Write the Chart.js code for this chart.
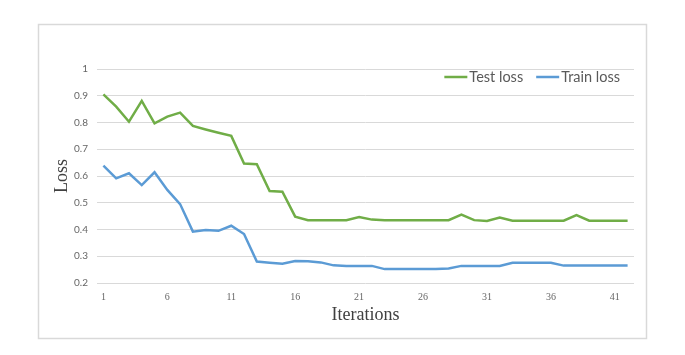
<!DOCTYPE html>
<html>
<head>
<meta charset="utf-8">
<script src="https://cdn.jsdelivr.net/npm/chart.js@4/dist/chart.umd.min.js"></script>
<style>
    html, body { margin: 0; padding: 0; background: #fff; }
    #wrap { width: 685px; height: 355px; }
</style>
</head>
<body>
<div id="wrap"><canvas id="lossChart" width="685" height="355"></canvas></div>
<script>
// --- DONNEES ---
const iterations = Array.from({ length: 42 }, (_, i) => String(i + 1));

const testLoss = [
    0.905, 0.859, 0.803, 0.881, 0.797, 0.822, 0.837, 0.787, 0.774, 0.762,
    0.750, 0.647, 0.644, 0.544, 0.541, 0.448, 0.435, 0.435, 0.435, 0.435,
    0.447, 0.437, 0.435, 0.435, 0.435, 0.435, 0.435, 0.435, 0.456, 0.435,
    0.432, 0.445, 0.433, 0.433, 0.433, 0.433, 0.433, 0.454, 0.433, 0.433,
    0.433, 0.433
];

const trainLoss = [
    0.639, 0.591, 0.610, 0.566, 0.614, 0.548, 0.495, 0.392, 0.398, 0.395,
    0.414, 0.383, 0.280, 0.276, 0.272, 0.282, 0.281, 0.277, 0.266, 0.264,
    0.264, 0.264, 0.252, 0.252, 0.252, 0.252, 0.252, 0.254, 0.264, 0.264,
    0.264, 0.264, 0.276, 0.276, 0.276, 0.276, 0.265, 0.265, 0.265, 0.265,
    0.265, 0.265
];

const seriesNames = ["Test loss", "Train loss"];
const seriesColors = ["#70ad47", "#5b9bd5"];

// cadre gris autour du graphique
const framePlugin = {
    id: "frame",
    beforeDraw(chart) {
        const ctx = chart.ctx;
        ctx.save();
        ctx.strokeStyle = "#d9d9d9";
        ctx.lineWidth = 1.5;
        ctx.strokeRect(38.5, 24.5, 608, 314);
        ctx.restore();
    }
};

// légende dans la zone du graphique, en haut à droite
const legendPlugin = {
    id: "insideLegend",
    afterDraw(chart) {
        const ctx = chart.ctx;
        const area = chart.chartArea;
        ctx.save();
        ctx.font = "14.5px Lato, 'Open Sans', sans-serif";
        ctx.textBaseline = "middle";
        const y = area.top + 8;
        let x = area.right - 14;
        for (let i = chart.data.datasets.length - 1; i >= 0; i--) {
            const ds = chart.data.datasets[i];
            const w = ctx.measureText(ds.label).width;
            x -= w;
            ctx.fillStyle = "#595959";
            ctx.fillText(ds.label, x, y);
            ctx.strokeStyle = ds.borderColor;
            ctx.lineWidth = 2.5;
            ctx.beginPath();
            ctx.moveTo(x - 25, y);
            ctx.lineTo(x - 2, y);
            ctx.stroke();
            x -= 25 + 13;
        }
        ctx.restore();
    }
};

const ctx = document.getElementById("lossChart").getContext("2d");

new Chart(ctx, {
    type: "line",
    data: {
        labels: iterations,
        datasets: [
            { label: seriesNames[0], data: testLoss, borderColor: seriesColors[0], backgroundColor: seriesColors[0] },
            { label: seriesNames[1], data: trainLoss, borderColor: seriesColors[1], backgroundColor: seriesColors[1] }
        ]
    },
    options: {
        responsive: false,
        animation: false,
        layout: { padding: { left: 47, right: 51, top: 69, bottom: 25 } },
        elements: {
            line: { borderWidth: 2.5, tension: 0 },
            point: { radius: 0 }
        },
        plugins: {
            legend: { display: false },
            tooltip: { enabled: false }
        },
        scales: {
            x: {
                offset: true,
                grid: { display: false },
                border: { display: false },
                ticks: {
                    autoSkip: false,
                    maxRotation: 0,
                    padding: 0,
                    color: "#666",
                    font: { family: "'Liberation Serif', serif", size: 10 },
                    callback: (v, i) => (i % 5 === 0 ? iterations[i] : "")
                },
                title: {
                    display: true,
                    text: "Iterations",
                    color: "#404040",
                    font: { family: "'Liberation Serif', 'Times New Roman', serif", size: 18 }
                },
                afterFit: s => { s.height = 47; }
            },
            y: {
                min: 0.2,
                max: 1,
                grid: { color: "#d9d9d9", lineWidth: 1, drawTicks: false },
                border: { display: false },
                ticks: {
                    stepSize: 0.1,
                    padding: 9,
                    color: "#666",
                    font: { family: "Lato, sans-serif", size: 10 },
                    callback: v => String(Math.round(v * 10) / 10)
                },
                title: {
                    display: true,
                    text: "Loss",
                    color: "#404040",
                    font: { family: "'Liberation Serif', 'Times New Roman', serif", size: 18 }
                },
                afterFit: s => { s.width = 50; }
            }
        }
    },
    plugins: [framePlugin, legendPlugin]
});
</script>
</body>
</html>
